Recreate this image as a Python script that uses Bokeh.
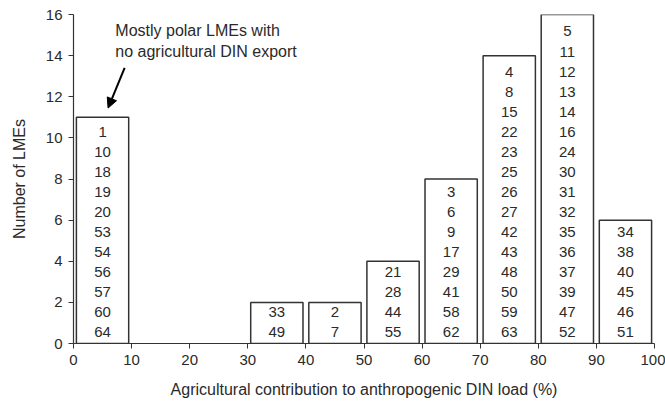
from bokeh.plotting import figure
from bokeh.models import ColumnDataSource, Arrow, NormalHead, Label, FixedTicker
from bokeh.core.properties import value
from bokeh.embed import file_html
from bokeh.resources import INLINE

# Data
bin_lefts = [0, 30, 40, 50, 60, 70, 80, 90]
counts = [11, 2, 2, 4, 8, 14, 16, 6]
lmes = [
    ["1", "10", "18", "19", "20", "53", "54", "56", "57", "60", "64"],
    ["33", "49"],
    ["2", "7"],
    ["21", "28", "44", "55"],
    ["3", "6", "9", "17", "29", "41", "58", "62"],
    ["4", "8", "15", "22", "23", "25", "26", "27", "42", "43", "48", "50", "59", "63"],
    ["5", "11", "12", "13", "14", "16", "24", "30", "31", "32", "35", "36", "37", "39", "47", "52"],
    ["34", "38", "40", "45", "46", "51"],
]
x_ticks = [0, 10, 20, 30, 40, 50, 60, 70, 80, 90, 100]
y_ticks = [0, 2, 4, 6, 8, 10, 12, 14, 16]

FONT = "Liberation Sans"
DARK = "#2a2a2a"

p = figure(width=665, height=407, output_backend="svg", toolbar_location=None,
           x_range=(0, 100), y_range=(0, 16),
           min_border_left=73, min_border_right=11, min_border_top=14, min_border_bottom=64)
p.outline_line_color = None
p.xgrid.visible = False
p.ygrid.visible = False

bar_src = ColumnDataSource(dict(
    left=[b + 0.5 for b in bin_lefts],
    right=[b + 9.5 for b in bin_lefts],
    top=counts,
    bottom=[0] * len(counts),
))
p.quad(left="left", right="right", top="top", bottom="bottom", source=bar_src,
       fill_color="white", line_color="#333333", line_width=1.5)

tx, ty, tt = [], [], []
for b, names in zip(bin_lefts, lmes):
    n = len(names)
    for i, name in enumerate(names):
        j = n - 1 - i
        tx.append(b + 5)
        ty.append(0.55 + j * 0.975)
        tt.append(name)
txt_src = ColumnDataSource(dict(x=tx, y=ty, text=tt))
p.text(x="x", y="y", text="text", source=txt_src, text_align="center",
       text_baseline="middle", text_font=value(FONT), text_font_size="15px",
       text_color=DARK)

# annotation
p.add_layout(Label(x=7.2, y=15.2, text="Mostly polar LMEs with", text_font=FONT,
                   text_font_size="16px", text_color=DARK, text_baseline="middle"))
p.add_layout(Label(x=7.2, y=14.2, text="no agricultural DIN export", text_font=FONT,
                   text_font_size="16px", text_color=DARK, text_baseline="middle"))
p.add_layout(Arrow(end=NormalHead(size=10, fill_color="black", line_color="black"),
                   x_start=8.8, y_start=13.4, x_end=5.95, y_end=11.45,
                   line_color="black", line_width=2))

for ax in (p.xaxis[0], p.yaxis[0]):
    ax.axis_line_color = "#333333"
    ax.axis_line_width = 1.2
    ax.major_tick_line_color = "#333333"
    ax.major_tick_out = 5
    ax.major_tick_in = 0
    ax.minor_tick_line_color = None
    ax.major_label_text_font = FONT
    ax.major_label_text_font_size = "15px"
    ax.major_label_text_color = DARK
    ax.major_label_standoff = 6
    ax.axis_label_text_font = FONT
    ax.axis_label_text_font_size = "16px"
    ax.axis_label_text_font_style = "normal"
    ax.axis_label_text_color = DARK

p.xaxis.ticker = FixedTicker(ticks=x_ticks)
p.yaxis.ticker = FixedTicker(ticks=y_ticks)
p.xaxis.axis_label = "Agricultural contribution to anthropogenic DIN load (%)"
p.yaxis.axis_label = "Number of LMEs"
p.xaxis.axis_label_standoff = 13
p.yaxis.axis_label_standoff = 15

open("out.html", "w").write(file_html(p, INLINE))
